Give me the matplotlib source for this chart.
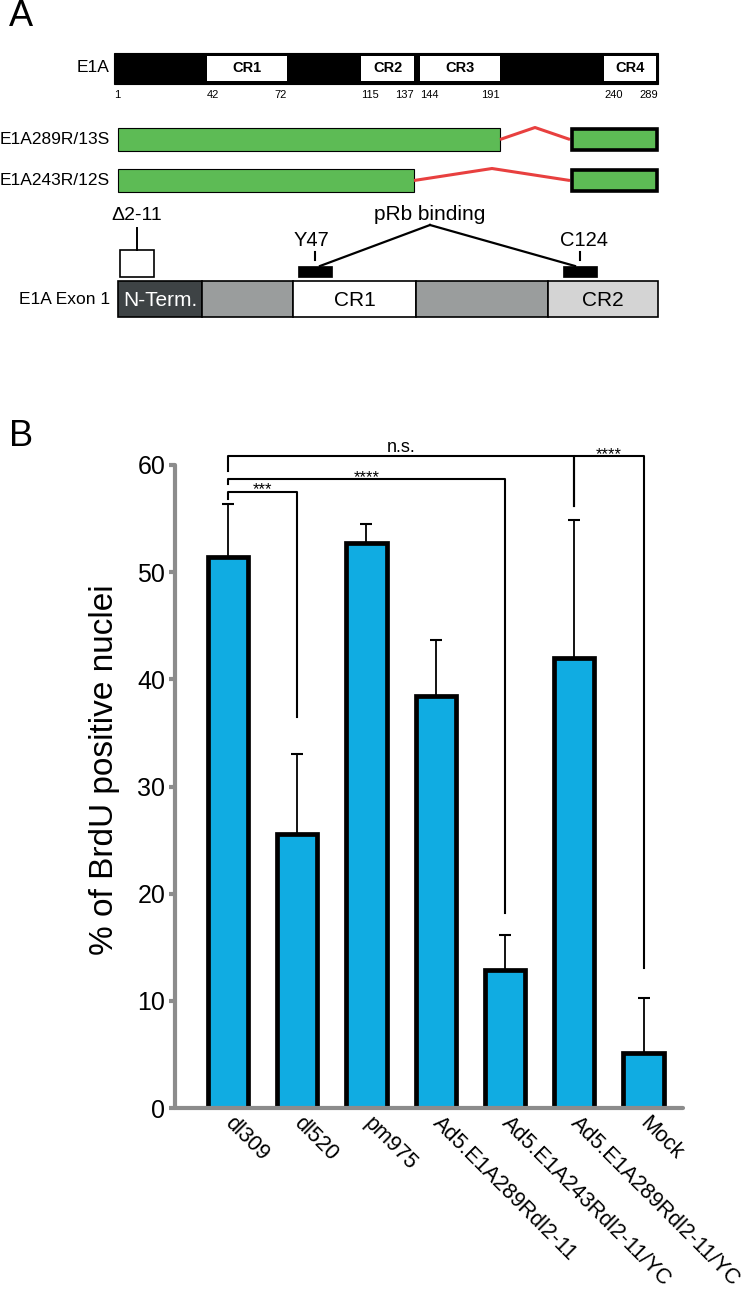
import numpy as np
import matplotlib.pyplot as plt
from matplotlib.patches import Rectangle
from matplotlib.transforms import ScaledTranslation

plt.rcParams['font.family'] = ['Liberation Sans', 'DejaVu Sans']

# ---------------- panel B data
strains = ['dl309', 'dl520', 'pm975', 'Ad5.E1A289Rdl2-11',
           'Ad5.E1A243Rdl2-11/YC', 'Ad5.E1A289Rdl2-11/YC', 'Mock']
brdu_mean = [51.4, 25.6, 52.7, 38.4, 12.9, 42.0, 5.1]
brdu_err = [5.0, 7.4, 1.8, 5.3, 3.2, 12.9, 5.2]
yticks = [0, 10, 20, 30, 40, 50, 60]

# significance brackets
sig_left = [0, 0, 0, 5]
sig_right = [1, 4, 5, 6]
sig_label = ['***', '****', 'n.s.', '****']
sig_height = [57.5, 58.7, 60.8, 60.8]
sig_left_end = [56.8, 58.2, 59.4, 56.2]
sig_right_end = [36.5, 18.2, 56.2, 13.1]

# ---------------- panel A data (schematic, not to scale)
e1a_residues = [1, 42, 72, 115, 137, 144, 191, 240, 289]
e1a_layout = [114, 207, 287, 361, 414, 420, 500, 604, 658]
cr_names = ['CR1', 'CR2', 'CR3', 'CR4']
cr_start = [42, 115, 144, 240]
cr_end = [72, 137, 191, 289]

isoforms = ['E1A289R/13S', 'E1A243R/12S']
iso_exon1_end = [191, 137]

exon1_names = ['N-Term.', '', 'CR1', '', 'CR2']
exon1_bounds = [1, 29, 42, 72, 115, 139]
exon1_layout = [118, 202, 293, 416, 548, 658]
exon1_colors = ['#3e4345', '#9a9d9d', 'white', '#9a9d9d', '#d4d4d4']
exon1_text_colors = ['white', 'black', 'black', 'black', 'black']
deletion = (2, 11)
prb_sites = ['Y47', 'C124']
prb_residues = [47, 124]
prb_layout_x = [315, 580]

GREEN = '#5dbb55'
RED = '#e8403f'
BLUE = '#10ace2'
GREY = '#8c8c8c'
LABEL_FS = 12.5

fig = plt.figure(figsize=(7.5, 12.97), dpi=100)

# ---------------- panel A, drawn in pixel units
axa = fig.add_axes([0, 0, 1, 1])
axa.set_xlim(0, 750)
axa.set_ylim(1297, 0)
axa.axis('off')


def ex(r):
    return np.interp(r, e1a_residues, e1a_layout)


def ex1(r):
    return np.interp(r, exon1_bounds, exon1_layout)


def box(x0, x1, y0, y1, **kw):
    axa.add_patch(Rectangle((x0, y0), x1 - x0, y1 - y0, **kw))


# full length E1A
box(ex(1), ex(289), 53, 84, fc='black', ec='black', lw=0.8)
for name, a, b in zip(cr_names, cr_start, cr_end):
    right = ex(b) - (2 if b == 289 else 0)
    box(ex(a), right, 56, 81, fc='white', ec='none')
    axa.text((ex(a) + right) / 2, 68.5, name, ha='center', va='center',
             fontsize=10.5, fontweight='bold')
for r in e1a_residues:
    starts = r == 1 or r in cr_start
    axa.text(ex(r), 95, str(r), ha='left' if starts else 'right', va='center',
             fontsize=8)
axa.text(110, 68, 'E1A', ha='right', va='center', fontsize=LABEL_FS)

# splice isoforms
exon2_x = (570, 658)
for k, (name, end) in enumerate(zip(isoforms, iso_exon1_end)):
    yc = 139.5 + k * 41
    x1 = ex(end)
    box(118, x1, yc - 11.5, yc + 11.5, fc=GREEN, ec='black', lw=0.8)
    axa.plot([x1, (x1 + exon2_x[0]) / 2, exon2_x[0]], [yc, yc - 12, yc],
             color=RED, lw=2.2, solid_capstyle='butt', zorder=1)
    box(exon2_x[0] + 1.5, exon2_x[1] - 1.5, yc - 10.5, yc + 10.5, fc=GREEN,
        ec='black', lw=2.6, zorder=3)
    axa.text(110, yc, name, ha='right', va='center', fontsize=LABEL_FS)

# exon 1 close-up
for k in range(len(exon1_names)):
    x0, x1 = ex1(exon1_bounds[k]), ex1(exon1_bounds[k + 1])
    box(x0, x1, 281, 317, fc=exon1_colors[k], ec='black', lw=1.2)
    if exon1_names[k]:
        axa.text((x0 + x1) / 2, 300, exon1_names[k], ha='center', va='center',
                 fontsize=15, color=exon1_text_colors[k])
axa.text(110, 299, 'E1A Exon 1', ha='right', va='center', fontsize=LABEL_FS)

# deletion dl2-11
dx0, dx1 = ex1(deletion[0]) - 1, ex1(deletion[1]) + 6
dxc = (dx0 + dx1) / 2
box(dx0, dx1, 250, 277, fc='white', ec='black', lw=1.2)
axa.plot([dxc, dxc], [228, 250], color='black', lw=1.4)
axa.text(dxc, 216, '\u03942-11', ha='center', va='center', fontsize=14)

# pRb binding sites
apex = (430, 225)
axa.text(apex[0], 214, 'pRb binding', ha='center', va='center', fontsize=15)
for name, xs, side in zip(prb_sites, prb_layout_x, [1, -1]):
    box(xs - 17, xs + 17, 266, 277, fc='black', ec='black', lw=0.5)
    axa.plot([xs, xs], [252, 260], color='black', lw=1.5)
    axa.text(xs - 4 * side, 240, name, ha='center', va='center', fontsize=14.5)
    axa.plot([apex[0], xs + 5 * side], [apex[1], 266], color='black', lw=1.6)

fig.text(21 / 750, 1 - 17 / 1297, 'A', fontsize=26, ha='center', va='center')
fig.text(21 / 750, 1 - 437 / 1297, 'B', fontsize=26, ha='center', va='center')

# ---------------- panel B
ax = fig.add_axes([175 / 750, 189 / 1297, 508 / 750, 643 / 1297])
x = np.arange(len(strains))
ax.bar(x, brdu_mean, width=0.58, color=BLUE, edgecolor='black',
       linewidth=3.4, zorder=2)
ax.errorbar(x, brdu_mean, yerr=[np.zeros(len(x)), brdu_err], fmt='none',
            ecolor='black', elinewidth=1.3, capsize=4, capthick=1.5, zorder=1)

for i, j, lab, h, le, re in zip(sig_left, sig_right, sig_label, sig_height,
                                sig_left_end, sig_right_end):
    ax.plot([i, i, j, j], [le, h, h, re], color='black', lw=1.5,
            clip_on=False, zorder=3)
    off = 3.5 if lab == 'n.s.' else -2
    ax.annotate(lab, xy=((i + j) / 2, h), xytext=(0, off),
                textcoords='offset points', ha='center', va='baseline',
                fontsize=13 if lab == 'n.s.' else 12, annotation_clip=False)

ax.set_xlim(-0.765, 6.57)
ax.set_ylim(0, 60)
ax.set_yticks(yticks)
ax.set_xticks(x)
ax.set_xticklabels(strains, rotation=-45, ha='left', va='center',
                   rotation_mode='anchor', fontsize=15.5)
shift = ScaledTranslation(-13 / 100, 0, fig.dpi_scale_trans)
for lab in ax.get_xticklabels():
    lab.set_transform(lab.get_transform() + shift)
ax.tick_params(axis='x', length=0, pad=9)
ax.tick_params(axis='y', direction='out', length=4, width=3, color=GREY,
               labelsize=18, pad=3)
for side in ['top', 'right']:
    ax.spines[side].set_visible(False)
for side in ['left', 'bottom']:
    ax.spines[side].set_color(GREY)
    ax.spines[side].set_linewidth(3)
    ax.spines[side].set_capstyle('round')
ax.spines['left'].set_bounds(0, 60)
ax.spines['left'].set_zorder(4)

fig.text(105 / 750, 1 - 770 / 1297, '% of BrdU positive nuclei', rotation=90,
         fontsize=24, ha='center', va='center')

fig.savefig('out.png', dpi=100)
